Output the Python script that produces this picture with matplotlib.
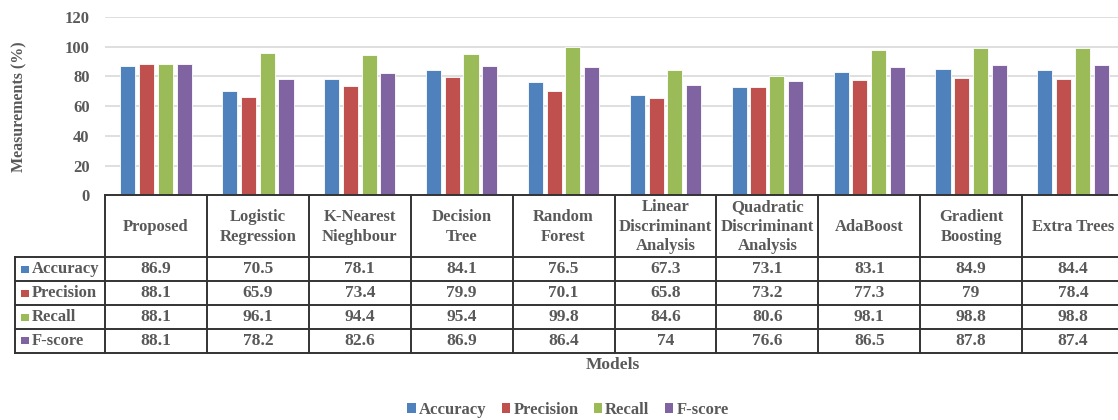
import matplotlib
matplotlib.use("Agg")
import matplotlib.pyplot as plt
from matplotlib.transforms import blended_transform_factory
from matplotlib.patches import Rectangle, Patch
from matplotlib.lines import Line2D

models = ["Proposed", "Logistic\nRegression", "K-Nearest\nNieghbour", "Decision\nTree",
          "Random\nForest", "Linear\nDiscriminant\nAnalysis", "Quadratic\nDiscriminant\nAnalysis",
          "AdaBoost", "Gradient\nBoosting", "Extra Trees"]
accuracy = [86.9, 70.5, 78.1, 84.1, 76.5, 67.3, 73.1, 83.1, 84.9, 84.4]
precision = [88.1, 65.9, 73.4, 79.9, 70.1, 65.8, 73.2, 77.3, 79, 78.4]
recall = [88.1, 96.1, 94.4, 95.4, 99.8, 84.6, 80.6, 98.1, 98.8, 98.8]
fscore = [88.1, 78.2, 82.6, 86.9, 86.4, 74, 76.6, 86.5, 87.8, 87.4]
series_names = ["Accuracy", "Precision", "Recall", "F-score"]
series = [accuracy, precision, recall, fscore]
colors = ["#4F81BD", "#C0504D", "#9BBB59", "#8064A2"]
yticks = [0, 20, 40, 60, 80, 100, 120]

W, H, DPI = 1118, 420, 100
TXT = "#595959"
LINE = "#333333"
FONT = "Liberation Serif"
plt.rcParams['font.family'] = [FONT, 'DejaVu Serif']

fig = plt.figure(figsize=(W / DPI, H / DPI), dpi=DPI)

def fy(ypx):
    return 1 - ypx / H

def fx(xpx):
    return xpx / W

ax_left, ax_right = 105, 1124
ax_top, ax_bot = 17, 195.3
ax = fig.add_axes([fx(ax_left), fy(ax_bot), fx(ax_right - ax_left), (ax_bot - ax_top) / H])
ax.set_xlim(0, len(models))
ax.set_ylim(0, 120)
ax.set_yticks(yticks)
ax.set_yticklabels([str(t) for t in yticks], fontsize=12, fontweight='bold', color=TXT)
ax.tick_params(axis='y', length=0, pad=11)
ax.set_xticks([])
for s in ax.spines.values():
    s.set_visible(False)
ax.grid(axis='y', color='#D9D9D9', linewidth=1.2)
ax.set_axisbelow(True)

step, bw = 0.184, 0.148
for k, (vals, c) in enumerate(zip(series, colors)):
    xs = [i + 0.5 + (k - 1.5) * step for i in range(len(models))]
    ax.bar(xs, vals, width=bw, color=c, edgecolor='white', linewidth=0.6, zorder=3)

# Data table
tr = blended_transform_factory(ax.transData, fig.transFigure)
hdr_bot = 257.3
row_h = 23.9
n_rows = len(series)
tab_bot = hdr_bot + n_rows * row_h
n = len(models)
lw = 1.4

for i in range(n + 1):
    fig.add_artist(Line2D([i, i], [fy(ax_bot), fy(tab_bot)], transform=tr, color=LINE, lw=lw, clip_on=False))
fig.add_artist(Line2D([0, n], [fy(ax_bot), fy(ax_bot)], transform=tr, color=LINE, lw=lw, clip_on=False))
for r in range(n_rows + 1):
    y = fy(hdr_bot + r * row_h)
    fig.add_artist(Line2D([fx(15), fx(ax_left)], [y, y], transform=fig.transFigure, color=LINE, lw=lw))
    fig.add_artist(Line2D([0, n], [y, y], transform=tr, color=LINE, lw=lw, clip_on=False))
fig.add_artist(Line2D([fx(15), fx(15)], [fy(hdr_bot), fy(tab_bot)], transform=fig.transFigure, color=LINE, lw=lw))

for i, m in enumerate(models):
    fig.text(i + 0.5, fy((ax_bot + hdr_bot) / 2 + 0.5), m, transform=tr, ha='center', va='center',
             fontsize=12, fontweight='bold', color=TXT, linespacing=1.3, multialignment='center')

for r, (name, vals, c) in enumerate(zip(series_names, series, colors)):
    yc = hdr_bot + (r + 0.5) * row_h
    fig.add_artist(Rectangle((fx(21), fy(yc + 3.5)), 8 / W, 7 / H, transform=fig.transFigure,
                             facecolor=c, edgecolor='none'))
    fig.text(fx(32), fy(yc), name, ha='left', va='center', fontsize=12, fontweight='bold', color=TXT)
    for i, v in enumerate(vals):
        fig.text(i + 0.5, fy(yc), f"{v:g}", transform=tr, ha='center', va='center',
                 fontsize=12.5, fontweight='bold', color=TXT)

fig.text(fx(19), fy(107), "Measurements (%)", rotation=90, ha='center', va='center',
         fontsize=11.5, fontweight='bold', color=TXT)
fig.text(fx(613), fy(365), "Models", ha='center', va='center', fontsize=12.5, fontweight='bold', color=TXT)

handles = [Patch(facecolor=c, edgecolor='none', label=nm) for nm, c in zip(series_names, colors)]
leg = fig.legend(handles=handles, loc='center', bbox_to_anchor=(fx(568), fy(410)), ncol=4, frameon=False,
                 handlelength=0.5, handleheight=0.5, handletextpad=0.2, columnspacing=0.9,
                 prop={'family': FONT, 'weight': 'bold', 'size': 12})
for t in leg.get_texts():
    t.set_color(TXT)

fig.savefig("out.png", dpi=DPI)
